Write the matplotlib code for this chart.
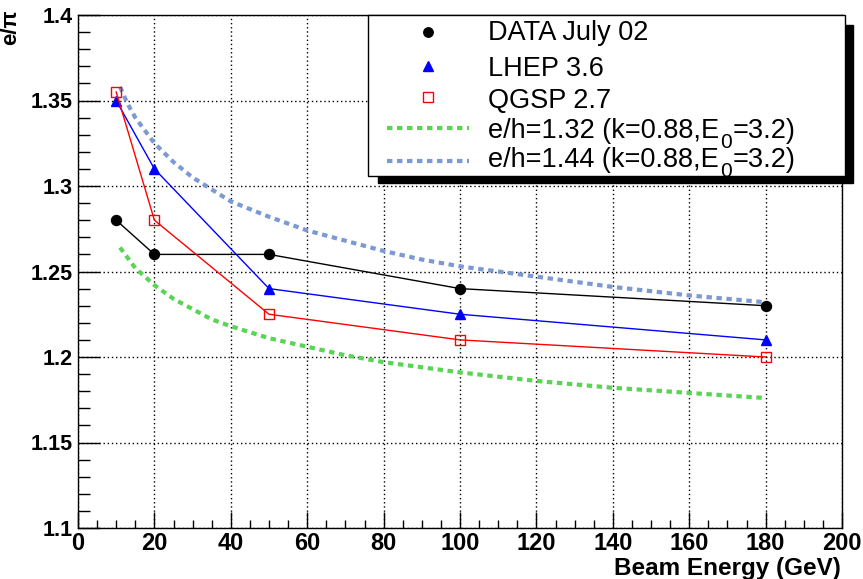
import matplotlib
matplotlib.use('Agg')
import matplotlib.pyplot as plt
from matplotlib.patches import Rectangle
from matplotlib.lines import Line2D
from matplotlib.ticker import MultipleLocator, FormatStrFormatter

plt.rcParams['font.family'] = ['Liberation Sans', 'DejaVu Sans']

# measured points
energy = [10, 20, 50, 100, 180]
data_july02 = [1.28, 1.26, 1.26, 1.24, 1.23]
lhep_36 = [1.35, 1.31, 1.24, 1.225, 1.21]
qgsp_27 = [1.355, 1.28, 1.225, 1.21, 1.20]

# curves
fit_energy = [11, 13, 15, 20, 25, 30, 35, 40, 50, 60, 70, 80, 90, 100, 120, 140, 160, 180]
fit_eh132 = [1.264, 1.258, 1.252, 1.242, 1.234, 1.228, 1.222, 1.218, 1.211, 1.206,
             1.201, 1.197, 1.194, 1.191, 1.186, 1.182, 1.179, 1.176]
fit_eh144 = [1.358, 1.348, 1.340, 1.325, 1.314, 1.305, 1.298, 1.291, 1.282, 1.274,
             1.268, 1.262, 1.257, 1.253, 1.247, 1.241, 1.236, 1.232]

legend_labels = ['DATA July 02', 'LHEP 3.6', 'QGSP 2.7']
# fit labels split around the E0 subscript: (before, subscript, after)
fit_labels = [('e/h=1.32 (k=0.88,E', '0', '=3.2)'),
              ('e/h=1.44 (k=0.88,E', '0', '=3.2)')]

green = '#59d454'
lblue = '#7d99d1'

W, H = 863, 579
fig = plt.figure(figsize=(W / 100, H / 100), dpi=100)
ax = fig.add_axes([78 / W, 1 - 528 / H, (842 - 78) / W, (528 - 15) / H])

def fx(px):
    return px / W

def fy(py):
    return 1 - py / H

# curves
ax.plot(fit_energy, fit_eh132, color=green, lw=3, ls=(0, (1.3, 1.1)), zorder=3)
ax.plot(fit_energy, fit_eh144, color=lblue, lw=3, ls=(0, (1.3, 1.1)), zorder=3)

# data
ax.plot(energy, data_july02, '-', color='black', lw=1, marker='o', ms=7.2, zorder=4)
ax.plot(energy, lhep_36, '-', color='blue', lw=1, marker='^', ms=7.8, zorder=4)
ax.plot(energy, qgsp_27, '-', color='red', lw=1, marker='s', ms=7.2,
        mfc='none', mec='red', mew=1, zorder=4)

ax.set_xlim(0, 200)
ax.set_ylim(1.1, 1.4)
ax.xaxis.set_major_locator(MultipleLocator(20))
ax.xaxis.set_minor_locator(MultipleLocator(5))
ax.yaxis.set_major_locator(MultipleLocator(0.05))
ax.yaxis.set_minor_locator(MultipleLocator(0.01))
ax.yaxis.set_major_formatter(FormatStrFormatter('%g'))

ax.grid(True, which='major', color='black', lw=1.0, ls=(0, (1, 2)))
ax.set_axisbelow(True)

ax.tick_params(axis='y', which='major', direction='in', length=16, width=1,
               labelsize=15.5, pad=4)
ax.tick_params(axis='y', which='minor', direction='in', length=8.5, width=1)
ax.tick_params(axis='x', which='major', direction='in', length=11.5, width=1,
               labelsize=17, pad=3)
ax.tick_params(axis='x', which='minor', direction='in', length=5.8, width=1)
for lbl in ax.get_xticklabels() + ax.get_yticklabels():
    lbl.set_fontweight('bold')
for s in ax.spines.values():
    s.set_linewidth(1.0)

ax.set_xlabel('Beam Energy (GeV)', loc='right', fontsize=17.5, fontweight='bold')
ax.xaxis.set_label_coords(0.999, -0.056)
ax.set_ylabel('e/\u03c0', loc='top', fontsize=16, fontweight='bold')
ax.yaxis.set_label_coords(-0.074, 1.01)

# legend box (ROOT style, solid shadow)
fig.add_artist(Rectangle((fx(378), fy(183)), fx(853) - fx(378), fy(25) - fy(183),
                         transform=fig.transFigure, facecolor='black',
                         edgecolor='black', zorder=10))
fig.add_artist(Rectangle((fx(368), fy(176)), fx(845) - fx(368), fy(15) - fy(176),
                         transform=fig.transFigure, facecolor='white',
                         edgecolor='black', lw=1, zorder=11))

handle_y = [32, 66, 97]
fig.add_artist(Line2D([fx(428)], [fy(handle_y[0])], marker='o', ms=6.8, color='black',
                      ls='none', transform=fig.transFigure, zorder=12))
fig.add_artist(Line2D([fx(428)], [fy(handle_y[1])], marker='^', ms=6.8, color='blue',
                      ls='none', transform=fig.transFigure, zorder=12))
fig.add_artist(Line2D([fx(428)], [fy(handle_y[2])], marker='s', ms=6.8, mfc='none',
                      mec='red', mew=1, ls='none', transform=fig.transFigure, zorder=12))
fig.add_artist(Line2D([fx(387), fx(469)], [fy(128), fy(128)], color=green, lw=3,
                      ls=(0, (1.3, 1.1)), transform=fig.transFigure, zorder=12))
fig.add_artist(Line2D([fx(387), fx(469)], [fy(161), fy(161)], color=lblue, lw=3,
                      ls=(0, (1.3, 1.1)), transform=fig.transFigure, zorder=12))

text_base = [40, 76, 108]
for lab, yb in zip(legend_labels, text_base):
    fig.text(fx(488), fy(yb), lab, fontsize=19.5, va='baseline', ha='left', zorder=13)

# fit entries with a ROOT-like low subscript
renderer = fig.canvas.get_renderer()
for (pre, sub, post), yb in zip(fit_labels, [138, 167]):
    t1 = fig.text(fx(488), fy(yb), pre, fontsize=19.5, va='baseline', zorder=13)
    x1 = t1.get_window_extent(renderer).x1
    t2 = fig.text((x1 + 1) / W, fy(yb + 10), sub, fontsize=15, va='baseline', zorder=13)
    x2 = t2.get_window_extent(renderer).x1
    fig.text((x2 + 1) / W, fy(yb), post, fontsize=19.5, va='baseline', zorder=13)

plt.savefig('out.png', dpi=100)
